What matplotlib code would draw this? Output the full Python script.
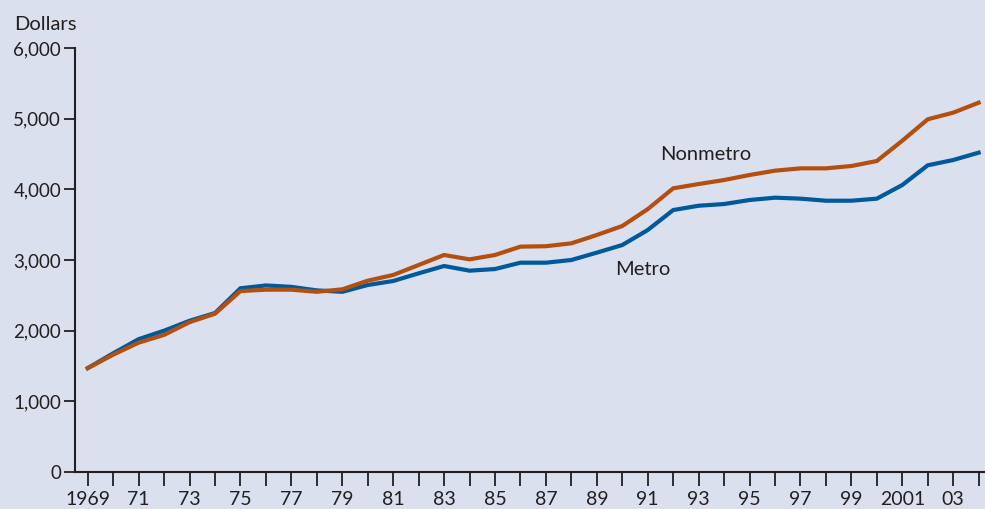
import numpy as np
import matplotlib.pyplot as plt

years = list(range(1969, 2005))
metro = [1470, 1680, 1880, 2000, 2140, 2250, 2600, 2640, 2620, 2570,
         2550, 2646, 2703, 2811, 2915, 2849, 2872, 2962, 2962, 3000,
         3104, 3212, 3424, 3707, 3768, 3792, 3849, 3882, 3868, 3839,
         3839, 3868, 4061, 4340, 4415, 4519]
nonmetro = [1470, 1660, 1830, 1940, 2120, 2240, 2560, 2580, 2580, 2550,
            2585, 2707, 2788, 2929, 3071, 3009, 3071, 3189, 3195, 3236,
            3354, 3481, 3720, 4014, 4075, 4132, 4203, 4264, 4297, 4297,
            4330, 4401, 4688, 4991, 5085, 5226]
tick_labels = ['1969', '71', '73', '75', '77', '79', '81', '83', '85', '87',
               '89', '91', '93', '95', '97', '99', '2001', '03']

bg = '#dbe0ee'
plt.rcParams['font.family'] = ['Lato', 'DejaVu Sans']

fig = plt.figure(figsize=(9.85, 5.09), dpi=100, facecolor=bg)
ax = fig.add_axes([75/985, 37/509, 1 - 75/985, (472-48)/509])
ax.set_facecolor(bg)

ax.plot(years, metro, color='#00599a', lw=3, solid_joinstyle='miter', zorder=3)
ax.plot(years, nonmetro, color='#b4500f', lw=3, solid_joinstyle='miter', zorder=4)

ax.set_xlim(1968.5, 2004.25)
ax.set_ylim(0, 6000)
ax.set_yticks(range(0, 6001, 1000))
ax.set_yticklabels(['{:,}'.format(v) for v in range(0, 6001, 1000)])
ax.set_xticks(years)
ax.set_xticklabels([str(tick_labels[i // 2]) if i % 2 == 0 else '' for i in range(len(years))])

for s in ['top', 'right']:
    ax.spines[s].set_visible(False)
for s in ['left', 'bottom']:
    ax.spines[s].set_linewidth(1.5)
    ax.spines[s].set_color('#231f20')

ax.tick_params(axis='y', length=8, width=1.3, color='#231f20', labelsize=13.5,
               labelcolor='#231f20', pad=2)
ax.tick_params(axis='x', length=10, width=1.3, color='#231f20', labelsize=14,
               labelcolor='#231f20', pad=4)

ax.text(1991.5, 4500, 'Nonmetro', fontsize=14.5, color='#231f20', va='center')
ax.text(1989.7, 2860, 'Metro', fontsize=14.5, color='#231f20', va='center')
fig.text(14/985, 1 - 25/509, 'Dollars', fontsize=14.5, color='#231f20', va='center')

fig.savefig('out.png', dpi=100, facecolor=bg)
